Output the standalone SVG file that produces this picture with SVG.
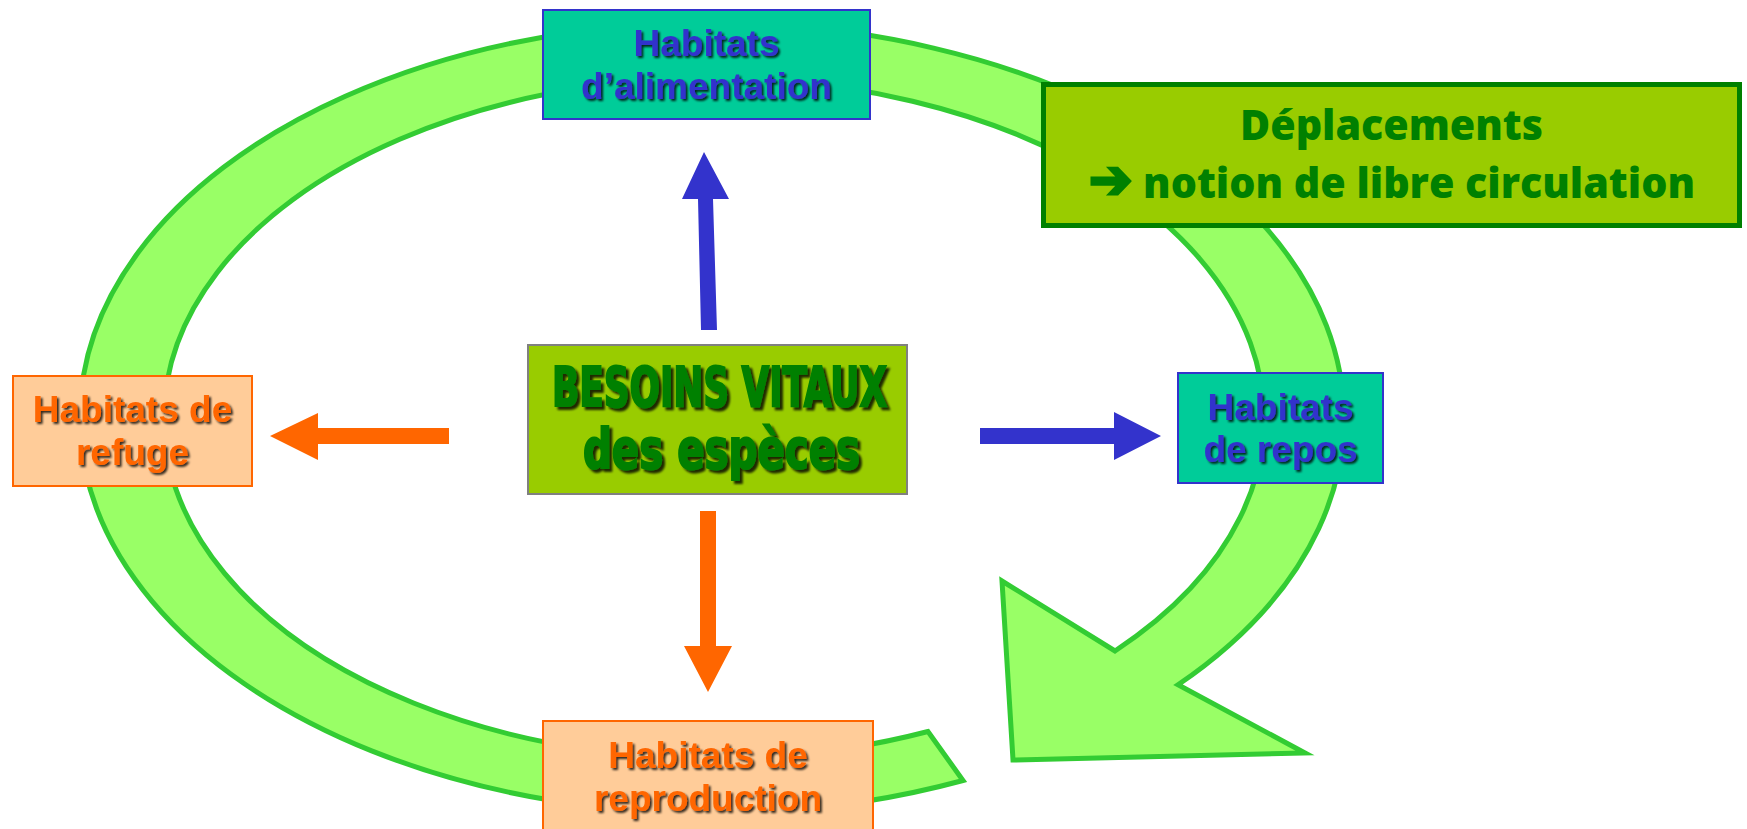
<svg xmlns="http://www.w3.org/2000/svg" width="1747" height="829" viewBox="0 0 1747 829">
<defs>
<style>
.lbl{font-family:"Liberation Sans",Arial,sans-serif;font-weight:bold;font-size:37px;text-anchor:middle;filter:url(#sh)}
.blue{fill:#3333CC}
.orange{fill:#FF6600}
.besoins{font-family:"Liberation Sans Narrow","DejaVu Sans Condensed","Liberation Sans",sans-serif;font-weight:bold;font-size:55px;fill:#008000;stroke:#008000;stroke-width:2;filter:url(#sh2)}
.dep{font-family:"Open Sans","Noto Sans",sans-serif;font-weight:800;font-size:43px;fill:#008000;text-anchor:middle}
.boxB{fill:#00CC99;stroke:#3333CC;stroke-width:2}
.boxO{fill:#FFCC99;stroke:#FF6600;stroke-width:2}
.arB{fill:#3333CC}
.arO{fill:#FF6600}
</style>
<filter id="sh" x="-10%" y="-20%" width="130%" height="150%">
<feDropShadow dx="2" dy="2" stdDeviation="0.8" flood-color="#000" flood-opacity="0.8"/>
</filter>
<filter id="sh2" x="-10%" y="-20%" width="130%" height="150%">
<feDropShadow dx="3" dy="3" stdDeviation="1" flood-color="#000" flood-opacity="0.8"/>
</filter>
</defs>
<rect width="1747" height="829" fill="#FFFFFF"/>

<g id="cycle">
<path d="M 963 780.5 A 632 395 0 1 1 1178 684.8 L 1305 753 L 1013 760 L 1002 581 L 1115 651 A 550 340 0 1 0 928 731.5 Z" fill="#99FF66" stroke="#33CC33" stroke-width="5" stroke-linejoin="miter"/>
</g>

<g id="connectors">
<polygon class="arB" points="717,330 701,330 698,199 682,199 704,152 729,199 713,199"/>
<polygon class="arB" points="980,428 1114,428 1114,412 1161,436 1114,460 1114,444 980,444"/>
<polygon class="arO" points="449,428 318,428 318,413 270,436 318,460 318,444 449,444"/>
<polygon class="arO" points="700,511 716,511 716,646 732,646 708,692 684,646 700,646"/>
</g>

<g id="alimentation">
<rect class="boxB" x="543" y="10" width="327" height="109"/>
<text class="lbl blue" x="706.5" y="56">Habitats</text>
<text class="lbl blue" x="706.5" y="99">d’alimentation</text>
</g>

<g id="deplacements">
<rect x="1043.5" y="84.5" width="696" height="141" fill="#99CC00" stroke="#008000" stroke-width="5"/>
<text class="dep" x="1391.5" y="140" textLength="303" lengthAdjust="spacingAndGlyphs">Déplacements</text>
<text class="dep" x="1392" y="198" textLength="606" lengthAdjust="spacingAndGlyphs"><tspan font-family="DejaVu Sans,sans-serif" font-size="54px" font-weight="bold" stroke="#008000" stroke-width="3">➔</tspan> notion de libre circulation</text>
</g>

<g id="besoins">
<rect x="528" y="345" width="379" height="149" fill="#99CC00" stroke="#808080" stroke-width="2"/>
<text class="besoins" x="552" y="406" textLength="335" lengthAdjust="spacingAndGlyphs">BESOINS VITAUX</text>
<text class="besoins" x="583" y="468" textLength="277" lengthAdjust="spacingAndGlyphs">des espèces</text>
</g>

<g id="refuge">
<rect class="boxO" x="13" y="376" width="239" height="110"/>
<text class="lbl orange" x="132.5" y="422">Habitats de</text>
<text class="lbl orange" x="132.5" y="465">refuge</text>
</g>

<g id="repos">
<rect class="boxB" x="1178" y="373" width="205" height="110"/>
<text class="lbl blue" x="1280.5" y="420">Habitats</text>
<text class="lbl blue" x="1280.5" y="462">de repos</text>
</g>

<g id="reproduction">
<rect class="boxO" x="543" y="721" width="330" height="120"/>
<text class="lbl orange" x="708" y="768">Habitats de</text>
<text class="lbl orange" x="708" y="811">reproduction</text>
</g>
</svg>
